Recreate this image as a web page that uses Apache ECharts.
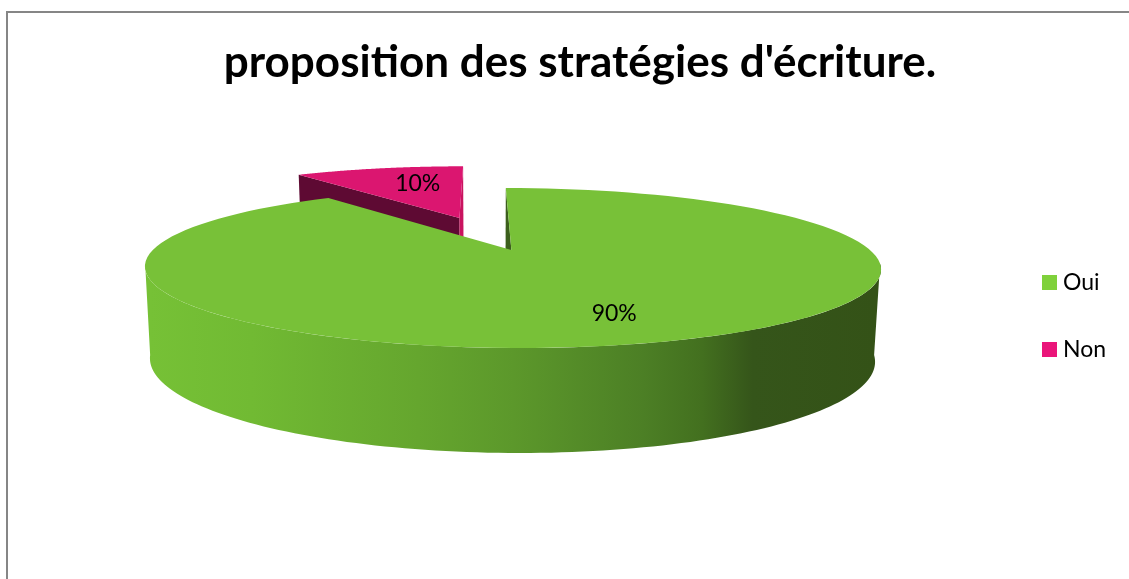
<!DOCTYPE html>
<html>
<head>
<meta charset="utf-8">
<script src="https://cdn.jsdelivr.net/npm/echarts@6/dist/echarts.min.js"></script>
<style>html,body{margin:0;padding:0;background:#fff}#c{width:1129px;height:579px}</style>
</head>
<body>
<div id="c"></div>
<script>
var titleText = "proposition des stratégies d'écriture.";
var categories = ['Oui', 'Non'];
var values = [90, 10];
var explode = [0, 0.489];
var legendColors = ['#7FD13B', '#EA157A'];
var topColors = ['#78C138', '#DB1670'];
var cutColorsStart = ['#3C5F1C', '#C9135F'];
var cutColorsEnd = ['#5E0A33', '#5E0A33'];
var labelShift = [[3, 2], [19, 3]];

var total = values.reduce(function (a, b) { return a + b; }, 0);

function makePlane(cx, topY, bottomY, rx, p, k) {
  var midY = (topY + bottomY) / 2;
  var a = (bottomY - topY) / 2 * (1 - p * p);
  var y0 = bottomY - a / (1 - p);
  var R = rx * Math.sqrt(1 - p * p);
  return function (X, Y) {
    var w = 1 + p * Y;
    var y = y0 - a * Y / w;
    return [cx + R * X / w + k * (y - midY), y];
  };
}
var topPlane = makePlane(513, 188, 348, 368, 0.225, 0.09);
var botPlane = makePlane(512.5, 267, 453, 362.5, 0.225, 0.075);

function rad(d) { return d * Math.PI / 180; }
function pt(plane, deg, r, offX, offY) {
  return plane(r * Math.sin(rad(deg)) + offX, r * Math.cos(rad(deg)) + offY);
}
function rim(plane, from, to, offX, offY) {
  var out = [], n = 120;
  for (var i = 0; i <= n; i++) out.push(pt(plane, from + (to - from) * i / n, 1, offX, offY));
  return out;
}

var wallGradient = new echarts.graphic.LinearGradient(150, 0, 876, 0, [
  { offset: 0, color: '#76C136' },
  { offset: 0.14, color: '#71BA33' },
  { offset: 0.37, color: '#65A62E' },
  { offset: 0.5, color: '#5C982B' },
  { offset: 0.68, color: '#4C7F25' },
  { offset: 0.76, color: '#43701F' },
  { offset: 0.83, color: '#35551A' },
  { offset: 1, color: '#345217' }
], true);

function renderSlice(index) {
  return function (params, api) {
    var v = api.value(0);
    var before = 0;
    for (var i = 0; i < index; i++) before += values[i];
    // Slices run clockwise from 12 o'clock; the last one ends at 360.
    var start = before / total * 360;
    var end = (before + v) / total * 360;
    var mid = (start + end) / 2;
    var d = explode[index];
    var ox = d * Math.sin(rad(mid));
    var oy = d * Math.cos(rad(mid));
    var children = [];
    function poly(points, fill) {
      children.push({ type: 'polygon', shape: { points: points }, style: { fill: fill, stroke: null } });
    }
    var apexT = topPlane(ox, oy), apexB = botPlane(ox, oy);
    if (index === 0) {
      // Front wall
      var tw = rim(topPlane, 100, 260, ox, oy);
      var bw = rim(botPlane, 260, 100, ox, oy);
      poly(tw.concat(bw), wallGradient);
      // Cut face at the start of the slice
      poly([pt(topPlane, start, 1, ox, oy), apexT, apexB, pt(botPlane, start, 1, ox, oy)], cutColorsStart[index]);
    } else {
      poly([pt(topPlane, start, 1, ox, oy), apexT, apexB, pt(botPlane, start, 1, ox, oy)], cutColorsEnd[index]);
      poly([pt(topPlane, end, 1, ox, oy), apexT, apexB, pt(botPlane, end, 1, ox, oy)], cutColorsStart[index]);
    }
    // Top face
    poly([apexT].concat(rim(topPlane, start, end, ox, oy)), topColors[index]);
    // Percent label
    var lp = pt(topPlane, mid, 0.72, ox, oy);
    children.push({
      type: 'text',
      style: {
        x: lp[0] + labelShift[index][0],
        y: lp[1] + labelShift[index][1],
        text: Math.round(v / total * 100) + '%',
        align: 'center',
        verticalAlign: 'middle',
        fill: '#000',
        font: '23px Lato'
      }
    });
    return { type: 'group', children: children };
  };
}

var chart = echarts.init(document.getElementById('c'), null, { renderer: 'canvas' });
chart.setOption({
  animation: false,
  backgroundColor: '#fff',
  title: {
    text: titleText,
    left: 575,
    top: 36,
    textAlign: 'center',
    textStyle: { fontFamily: 'Lato', fontWeight: 'bold', fontSize: 44, color: '#000' }
  },
  legend: {
    data: categories,
    orient: 'vertical',
    left: 1037,
    top: 266,
    itemWidth: 15,
    itemHeight: 15,
    itemGap: 44,
    icon: 'rect',
    selectedMode: false,
    textStyle: { fontFamily: 'Lato', fontSize: 23, color: '#000', padding: [0, 0, 0, 1] }
  },
  graphic: [{
    type: 'polyline',
    shape: { points: [[7, 579], [7, 12], [1129, 12]] },
    style: { stroke: '#868686', lineWidth: 2, fill: null }
  }],
  series: categories.map(function (name, i) {
    return {
      type: 'custom',
      name: name,
      coordinateSystem: 'none',
      z: i === 0 ? 3 : 2,
      silent: true,
      itemStyle: { color: legendColors[i] },
      data: [[values[i]]],
      renderItem: renderSlice(i)
    };
  })
});
</script>
</body>
</html>
